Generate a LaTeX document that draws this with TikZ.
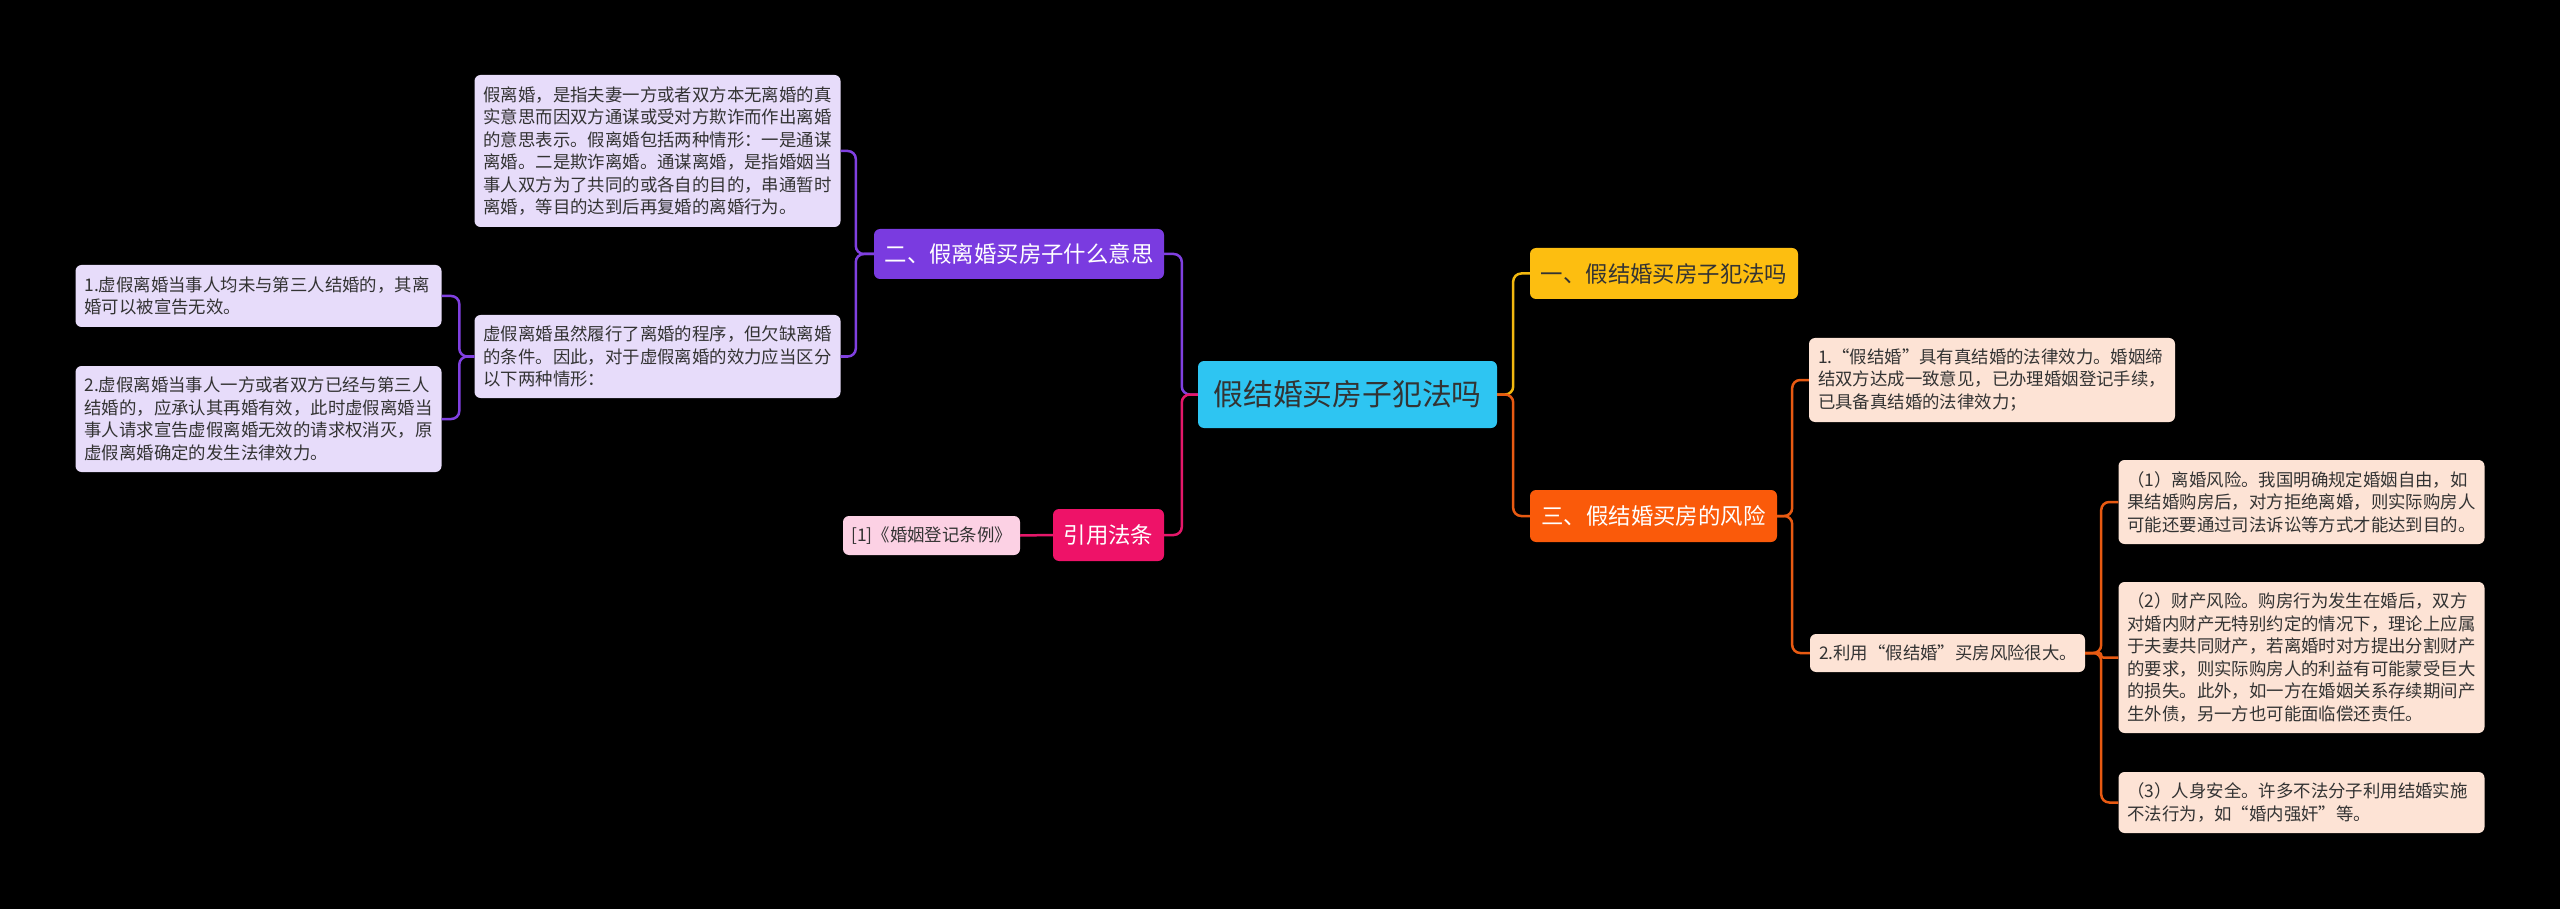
\documentclass[tikz,border=0pt]{standalone}
\usepackage{fontspec}
\setmainfont{Noto Sans CJK SC}
\definecolor{rootc}{HTML}{2EC5F2}
\definecolor{yel}{HTML}{FDBE10}
\definecolor{ora}{HTML}{FA5A0A}
\definecolor{pur}{HTML}{7A3BE0}
\definecolor{pnk}{HTML}{EE1268}
\definecolor{lav}{HTML}{E7DCFA}
\definecolor{peach}{HTML}{FDE3D5}
\definecolor{lpink}{HTML}{FCD1E4}
\definecolor{txt}{HTML}{333333}
\definecolor{lineyel}{HTML}{F2B80F}
\definecolor{lineora}{HTML}{E85A12}
\definecolor{linepur}{HTML}{8040E0}
\definecolor{linepnk}{HTML}{E5186A}
\tikzset{
  box/.style={rounded corners=6pt, inner sep=0pt, align=center, text=txt},
  rootbox/.style={box, fill=rootc, minimum width=299pt, minimum height=67pt, font=\fontsize{29.8}{34}\selectfont},
  branch/.style={box, minimum height=51pt, font=\fontsize{22.4}{26}\selectfont},
  leaf/.style={box, align=left, inner xsep=9pt, text width=348pt, font=\fontsize{17.4}{22.5}\selectfont},
  purleaf/.style={leaf, fill=lav},
  oraleaf/.style={leaf, fill=peach},
  conn/.style={line width=2.5pt, rounded corners=8pt},
  cpur/.style={conn, draw=linepur},
  cpnk/.style={conn, draw=linepnk},
  cyel/.style={conn, draw=lineyel},
  cora/.style={conn, draw=lineora}
}
\begin{document}
\begin{tikzpicture}[x=1pt,y=-1pt]
\fill[black] (0,0) rectangle (2560,909);
\useasboundingbox (0,0) rectangle (2560,909);

% main nodes
\node[rootbox] (root) at (1347.5,394.5) {假结婚买房子犯法吗};
\node[branch, fill=yel, minimum width=268pt] (b1) at (1664,273.5) {一、假结婚买房子犯法吗};
\node[branch, fill=ora, text=white, minimum width=247pt, minimum height=52pt] (b3) at (1653.5,516) {三、假结婚买房的风险};
\node[branch, fill=pur, text=white, minimum width=290pt, minimum height=50pt] (b2) at (1019,254) {二、假离婚买房子什么意思};
\node[branch, fill=pnk, text=white, minimum width=111pt, minimum height=52pt] (b4) at (1108.5,535) {引用法条};
\node[box, fill=lpink, minimum width=177pt, minimum height=39pt, font=\fontsize{17.4}{22.5}\selectfont] (r1) at (931.5,535.5) {[1]《婚姻登记条例》};

% left leaves
\node[purleaf, minimum height=152pt] (L1) at (657.5,151) {假离婚，是指夫妻一方或者双方本无离婚的真\\实意思而因双方通谋或受对方欺诈而作出离婚\\的意思表示。假离婚包括两种情形：一是通谋\\离婚。二是欺诈离婚。通谋离婚，是指婚姻当\\事人双方为了共同的或各自的目的，串通暂时\\离婚，等目的达到后再复婚的离婚行为。};
\node[purleaf, minimum height=83pt] (L2) at (657.5,356.5) {虚假离婚虽然履行了离婚的程序，但欠缺离婚\\的条件。因此，对于虚假离婚的效力应当区分\\以下两种情形：};
\node[purleaf, minimum height=62pt] (L3) at (258.5,296) {1.虚假离婚当事人均未与第三人结婚的，其离\\婚可以被宣告无效。};
\node[purleaf, minimum height=106pt] (L4) at (258.5,419) {2.虚假离婚当事人一方或者双方已经与第三人\\结婚的，应承认其再婚有效，此时虚假离婚当\\事人请求宣告虚假离婚无效的请求权消灭，原\\虚假离婚确定的发生法律效力。};

% right leaves
\node[oraleaf, minimum height=84pt] (R1) at (1992,380) {1.“假结婚”具有真结婚的法律效力。婚姻缔\\结双方达成一致意见，已办理婚姻登记手续，\\已具备真结婚的法律效力；};
\node[oraleaf, text width=257pt, minimum height=38pt] (R2) at (1947.5,653) {2.利用“假结婚”买房风险很大。};
\node[oraleaf, minimum height=84pt] (R3) at (2301.5,502) {（1）离婚风险。我国明确规定婚姻自由，如\\果结婚购房后，对方拒绝离婚，则实际购房人\\可能还要通过司法诉讼等方式才能达到目的。};
\node[oraleaf, minimum height=151pt] (R4) at (2301.5,657.5) {（2）财产风险。购房行为发生在婚后，双方\\对婚内财产无特别约定的情况下，理论上应属\\于夫妻共同财产，若离婚时对方提出分割财产\\的要求，则实际购房人的利益有可能蒙受巨大\\的损失。此外，如一方在婚姻关系存续期间产\\生外债，另一方也可能面临偿还责任。};
\node[oraleaf, minimum height=61pt] (R5) at (2301.5,802.5) {（3）人身安全。许多不法分子利用结婚实施\\不法行为，如“婚内强奸”等。};

% connectors
\draw[cpur] (root.west) -- ++(-16,0) |- (b2.east);
\draw[cpnk] (root.west) -- ++(-16,0) |- (b4.east);
\draw[cyel] (root.east) -- ++(16,0) |- (b1.west);
\draw[cora] (root.east) -- ++(16,0) |- (b3.west);

\draw[cpur] (b2.west) -- ++(-18,0) |- (L1.east);
\draw[cpur] (b2.west) -- ++(-18,0) |- (L2.east);
\draw[cpur] (L2.west) -- ++(-15,0) |- (L3.east);
\draw[cpur] (L2.west) -- ++(-15,0) |- (L4.east);

\draw[cpnk] (b4.west) -- (r1.east);

\draw[cora] (b3.east) -- ++(15,0) |- (R1.west);
\draw[cora] (b3.east) -- ++(15,0) |- (R2.west);
\draw[cora] (R2.east) -- ++(16,0) |- (R3.west);
\draw[cora, rounded corners=2pt] (R2.east) -- ++(16,0) |- (R4.west);
\draw[cora] (R2.east) -- ++(16,0) |- (R5.west);
\end{tikzpicture}
\end{document}
